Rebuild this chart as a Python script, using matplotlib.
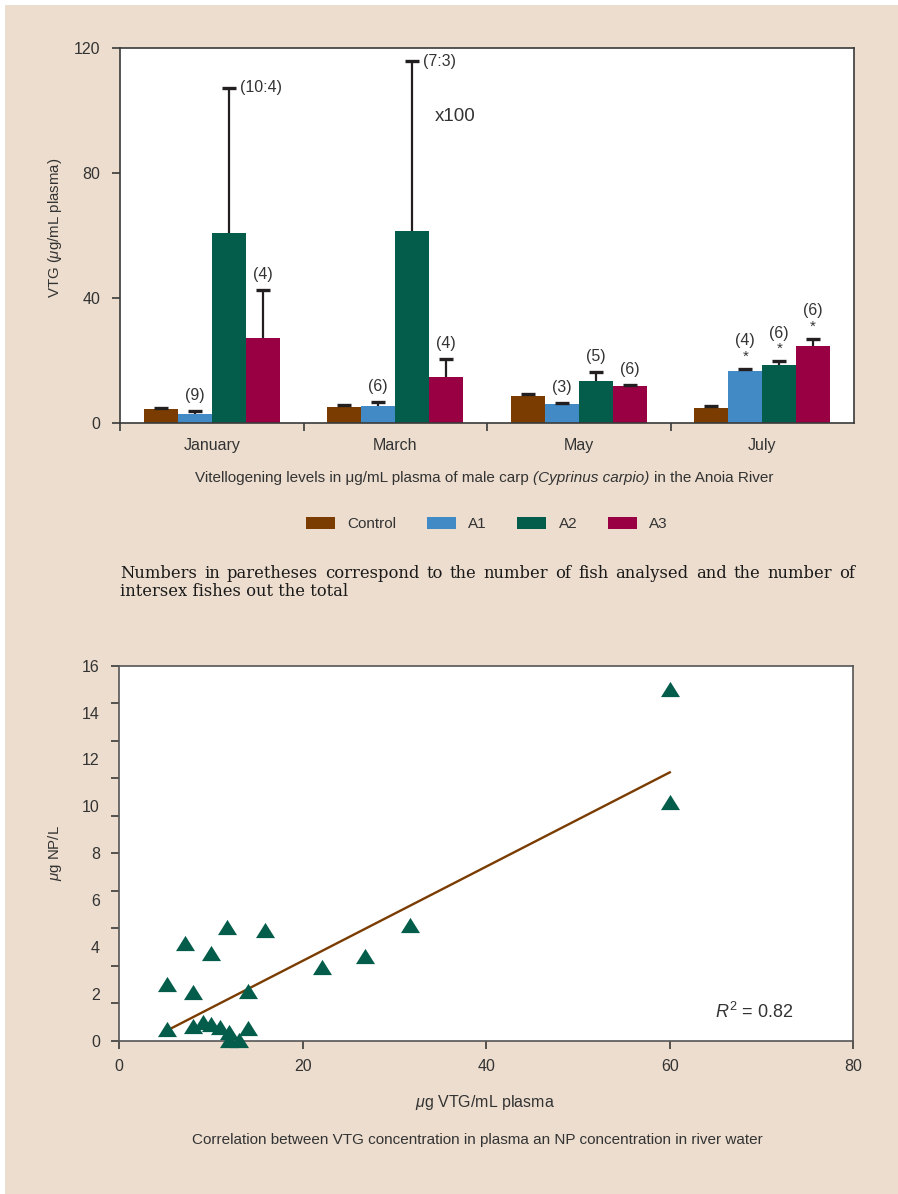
import matplotlib
matplotlib.use('Agg')
import matplotlib.pyplot as plt
import numpy as np
from matplotlib.patches import Patch, Rectangle

# Vitellogenin levels per sampling month and site
months = ['January', 'March', 'May', 'July']
groups = ['Control', 'A1', 'A2', 'A3']
control = [4.5, 5.1, 8.6, 4.8]
control_err = [0.3, 0.5, 0.6, 0.6]
a1 = [2.9, 5.4, 6.1, 16.6]
a1_err = [0.9, 1.2, 0.3, 0.7]
a2 = [60.8, 61.4, 13.4, 18.6]
a2_err = [46.5, 54.4, 2.8, 1.1]
a3 = [27.2, 14.7, 11.8, 24.6]
a3_err = [15.4, 5.8, 0.4, 2.2]

# fish counts (analysed:intersex) and significance marks per bar
a1_counts = ['(9)', '(6)', '(3)', '(4)']
a2_counts = ['(10:4)', '(7:3)', '(5)', '(6)']
a3_counts = ['(4)', '(4)', '(6)', '(6)']
a1_signif = [False, False, False, True]
a2_signif = [False, False, False, True]
a3_signif = [False, False, False, True]

# VTG in plasma vs nonylphenol in river water
vtg = [5.2, 5.2, 7.2, 8.0, 8.0, 9.1, 10.0, 10.0, 11.0, 11.7, 12.0,
       12.0, 13.0, 14.0, 14.0, 15.9, 22.1, 26.8, 31.7, 60.0, 60.0]
np_conc = [0.5, 2.42, 4.15, 2.09, 0.62, 0.8, 3.76, 0.7, 0.58, 4.86, 0.37,
           0.03, 0.03, 2.13, 0.56, 4.74, 3.13, 3.63, 4.95, 15.0, 10.2]
fit_slope = 0.201
fit_intercept = -0.61
r_squared = 0.82

W, H = 898, 1194
BEIGE = '#ecddce'
INK = '#333333'
EDGE = '#3a3a3a'
COLORS = ['#7a3c00', '#428ac6', '#045c4a', '#990044']
SANS = ['Liberation Sans', 'DejaVu Sans']
SERIF = ['DejaVu Serif']

plt.rcParams['font.family'] = SANS
plt.rcParams['mathtext.fontset'] = 'custom'
plt.rcParams['mathtext.rm'] = 'Liberation Sans'
plt.rcParams['mathtext.it'] = 'Liberation Sans:italic'
plt.rcParams['text.color'] = INK
plt.rcParams['xtick.color'] = EDGE
plt.rcParams['ytick.color'] = EDGE
plt.rcParams['xtick.labelcolor'] = INK
plt.rcParams['ytick.labelcolor'] = INK

fig = plt.figure(figsize=(W / 100, H / 100), dpi=100)
fig.patch.set_facecolor('white')
fig.add_artist(Rectangle((5 / W, 0), 1, 1 - 5 / H, transform=fig.transFigure,
                         facecolor=BEIGE, edgecolor='none', zorder=-10))
renderer = fig.canvas.get_renderer()


def px_width(text):
    return text.get_window_extent(renderer).width


def draw_runs(xc, y, runs, size):
    """Draw a centred line made of differently styled pieces."""
    probe = fig.text(0, 0, 'x x', fontsize=size)
    probe2 = fig.text(0, 0, 'xx', fontsize=size)
    space = px_width(probe) - px_width(probe2)
    probe.remove()
    probe2.remove()
    pieces = [fig.text(0, y, s, fontsize=size, style=style, ha='left',
                       va='center', color=INK) for s, style in runs]
    widths = [px_width(t) for t in pieces]
    x = xc * W - (sum(widths) + space * (len(pieces) - 1)) / 2
    for t, w in zip(pieces, widths):
        t.set_x(x / W)
        x += w + space


def draw_justified(x0, x1, y, line, size):
    words = [fig.text(0, y, w, fontsize=size, family=SERIF, ha='left',
                      va='center', color='#1a1a1a') for w in line.split()]
    widths = [px_width(t) for t in words]
    gap = (x1 - x0 - sum(widths)) / (len(words) - 1)
    x = x0
    for t, w in zip(words, widths):
        t.set_x(x / W)
        x += w + gap


# ---- bar chart ----
ax = fig.add_axes([120 / W, 1 - 423 / H, 734 / W, 375 / H])
ax.set_facecolor('white')
bw = 0.185
xs = np.arange(len(months))
series = [control, a1, a2, a3]
errors = [control_err, a1_err, a2_err, a3_err]
for i, (vals, errs) in enumerate(zip(series, errors)):
    pos = xs + (i - 1.5) * bw
    ax.bar(pos, vals, bw, color=COLORS[i], label=groups[i], zorder=2)
    eb = ax.errorbar(pos, vals, yerr=[np.zeros(len(errs)), errs], fmt='none',
                     ecolor='#231f20', elinewidth=1.6, capsize=4.8, capthick=2.4, zorder=3)
    # only the upper whisker is shown
    eb[1][0].set_visible(False)

annot = [(1, a1, a1_err, a1_counts, a1_signif),
         (2, a2, a2_err, a2_counts, a2_signif),
         (3, a3, a3_err, a3_counts, a3_signif)]
for i, vals, errs, counts, signif in annot:
    for j in range(len(months)):
        top = vals[j] + errs[j]
        x = xs[j] + (i - 1.5) * bw
        if ':' in counts[j]:
            ax.annotate(counts[j], (x, top), xytext=(8, 0), textcoords='offset points',
                        ha='left', va='center', fontsize=11.5)
            continue
        lift = 6
        if signif[j]:
            ax.annotate('*', (x, top), xytext=(0, 4), textcoords='offset points',
                        ha='center', va='bottom', fontsize=11)
            lift = 15
        ax.annotate(counts[j], (x, top), xytext=(0, lift), textcoords='offset points',
                    ha='center', va='bottom', fontsize=11.5)

# scaling note beside the March A2 bar
ax.annotate('x100', (xs[1] + 0.5 * bw, a2[1] + a2_err[1]), xytext=(16, -40),
            textcoords='offset points', ha='left', va='center', fontsize=13.5)

ax.set_xlim(-0.5, 3.5)
ax.set_ylim(0, 120)
ax.set_yticks([0, 40, 80, 120])
ax.set_xticks(xs - 0.5)
ax.set_xticklabels([])
ax.set_xticks(xs, minor=True)
ax.set_xticklabels(months, minor=True)
ax.tick_params(axis='x', which='minor', length=0, pad=11, labelsize=11.5)
ax.tick_params(axis='x', which='major', length=6, width=1.2)
ax.tick_params(axis='y', length=6, width=1.2, pad=8, labelsize=11.5)
for s in ax.spines.values():
    s.set_color(EDGE)
    s.set_linewidth(1.2)
fig.text(55 / W, 1 - 228 / H, r'VTG ($\mathit{\mu}$g/mL plasma)', rotation=90,
         ha='center', va='center', fontsize=10.8)

draw_runs(484 / W, 1 - 478 / H,
          [('Vitellogening levels in \u03bcg/mL plasma of male carp', 'normal'),
           ('(Cyprinus carpio)', 'italic'), ('in the Anoia River', 'normal')], 11)

handles = [Patch(facecolor=c, edgecolor='none') for c in COLORS]
fig.legend(handles, groups, loc='center', bbox_to_anchor=(487 / W, 1 - 524 / H),
           ncol=4, frameon=False, prop={'size': 11},
           handlelength=1.9, handleheight=0.9, handletextpad=0.8, columnspacing=2.0)

draw_justified(120, 855, 1 - 573 / H,
               'Numbers in paretheses correspond to the number of fish analysed and the number of',
               11.8)
fig.text(120 / W, 1 - 591 / H, 'intersex fishes out the total', fontsize=11.8,
         family=SERIF, ha='left', va='center', color='#1a1a1a')

# ---- scatter / regression ----
bx = fig.add_axes([119.3 / W, 1 - 1040.7 / H, 734 / W, 375 / H])
bx.set_facecolor('white')
tri = [(-1, -0.8), (1, -0.8), (0, 0.8)]
bx.plot(vtg, np_conc, linestyle='none', marker=tri, markersize=13.7,
        color=COLORS[2], markeredgewidth=0, clip_on=False, zorder=3)
line_x = np.array([min(vtg), max(vtg)])
bx.plot(line_x, fit_slope * line_x + fit_intercept, color=COLORS[0], lw=1.7, zorder=2)
bx.text(0.8116, 0.0773, r'$R^2$ = %.2f' % r_squared, transform=bx.transAxes,
        ha='left', va='center', fontsize=13)

bx.set_xlim(0, 80)
bx.set_ylim(0, 16)
bx.set_xticks([0, 20, 40, 60, 80])
bx.set_yticks(np.arange(0, 17, 2))
bx.set_yticks(np.linspace(0, 16, 11), minor=True)
bx.yaxis.remove_overlapping_locs = False
bx.tick_params(axis='y', which='major', length=0, pad=14, labelsize=11.5)
bx.tick_params(axis='y', which='minor', length=6, width=1.2)
bx.tick_params(axis='x', length=6, width=1.2, pad=7, labelsize=11.5)
for s in bx.spines.values():
    s.set_color('#555555')
    s.set_linewidth(1.2)
fig.text(55 / W, 1 - 853 / H, r'$\mathit{\mu}$g NP/L', rotation=90,
         ha='center', va='center', fontsize=10.8)
fig.text(485 / W, 1 - 1103 / H, r'$\mathit{\mu}$g VTG/mL plasma', ha='center',
         va='center', fontsize=11.5)
draw_runs(477 / W, 1 - 1140 / H,
          [('Correlation between VTG concentration in plasma an NP concentration in river water',
            'normal')], 11)

fig.savefig('out.png', dpi=100)
